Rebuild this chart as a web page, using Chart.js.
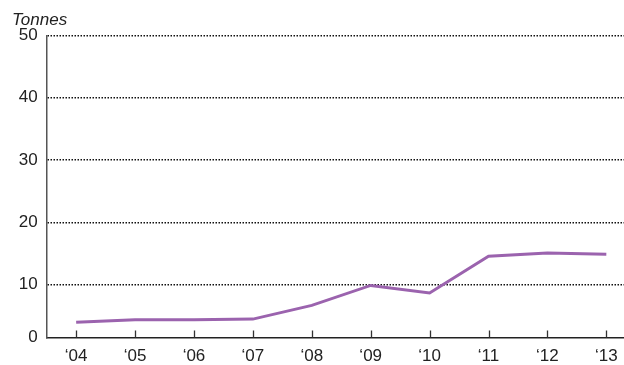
<!DOCTYPE html>
<html>
<head>
<meta charset="utf-8">
<script src="https://cdn.jsdelivr.net/npm/chart.js@4"></script>
<style>
  html, body { margin: 0; padding: 0; background: #fff; }
  #wrap { width: 624px; height: 365px; position: relative; }
</style>
</head>
<body>
<div id="wrap"><canvas id="c"></canvas></div>
<script>
const categories = ["\u201804", "\u201805", "\u201806", "\u201807", "\u201808", "\u201809", "\u201810", "\u201811", "\u201812", "\u201813"];
const tonnes = [4.0, 4.4, 4.4, 4.5, 6.7, 9.9, 8.7, 14.6, 15.1, 14.9];
const yTickValues = [10, 20, 30, 40, 50];
const yAxisLabel = "Tonnes";

const Y_MIN = 1.55, Y_MAX = 50;

const innerTicks = {
  id: 'innerTicks',
  afterDatasetsDraw(chart) {
    const xs = chart.scales.x, area = chart.chartArea, ctx = chart.ctx;
    ctx.save();
    ctx.strokeStyle = '#333';
    ctx.lineWidth = 1.3;
    categories.forEach((c, i) => {
      const px = Math.round(xs.getPixelForValue(i)) + 0.5;
      ctx.beginPath();
      ctx.moveTo(px, area.bottom);
      ctx.lineTo(px, area.bottom - 7);
      ctx.stroke();
    });
    ctx.restore();
  }
};

new Chart(document.getElementById('c'), {
  type: 'line',
  data: {
    datasets: [{
      data: tonnes.map((v, i) => ({ x: i, y: v })),
      borderColor: '#9b63ae',
      borderWidth: 3,
      pointRadius: 0,
      tension: 0,
      fill: false
    }]
  },
  options: {
    responsive: true,
    maintainAspectRatio: false,
    animation: false,
    layout: { padding: { left: 12, right: 0, top: 0, bottom: 0 } },
    plugins: {
      legend: { display: false },
      tooltip: { enabled: false },
      title: {
        display: true,
        text: yAxisLabel,
        align: 'start',
        color: '#222',
        font: { family: 'Liberation Sans, Arial, sans-serif', size: 17, style: 'italic', weight: 'normal', lineHeight: 1.2 },
        padding: { top: 10, bottom: 5 }
      }
    },
    scales: {
      x: {
        type: 'linear',
        min: -0.5,
        max: 9.3,
        afterBuildTicks(scale) { scale.ticks = categories.map((c, i) => ({ value: i })); },
        afterFit(scale) { scale.height = 27.5; scale.paddingRight = 0; scale.paddingLeft = 0; },
        grid: { drawOnChartArea: false, drawTicks: false },
        border: { display: true, color: '#222', width: 1.5 },
        ticks: {
          callback: (v) => categories[v],
          color: '#222',
          padding: 10,
          maxRotation: 0,
          autoSkip: false,
          font: { family: 'Liberation Sans, Arial, sans-serif', size: 17, lineHeight: 1 }
        }
      },
      y: {
        min: Y_MIN,
        max: Y_MAX,
        afterBuildTicks(scale) { scale.ticks = [{ value: Y_MIN }].concat(yTickValues.map(v => ({ value: v }))); },
        afterFit(scale) { scale.width = 34.7; },
        grid: {
          drawTicks: false,
          lineWidth: 1.5,
          color: (ctx) => (ctx.tick && ctx.tick.value === Y_MIN) ? 'rgba(0,0,0,0)' : '#111'
        },
        border: { display: true, color: '#555', width: 1.5, dash: [1.5, 1.5] },
        ticks: {
          callback: (v) => v === Y_MIN ? '0' : String(v),
          color: '#222',
          padding: 9,
          font: { family: 'Liberation Sans, Arial, sans-serif', size: 17, lineHeight: 1 }
        }
      }
    }
  },
  plugins: [innerTicks]
});
</script>
</body>
</html>
